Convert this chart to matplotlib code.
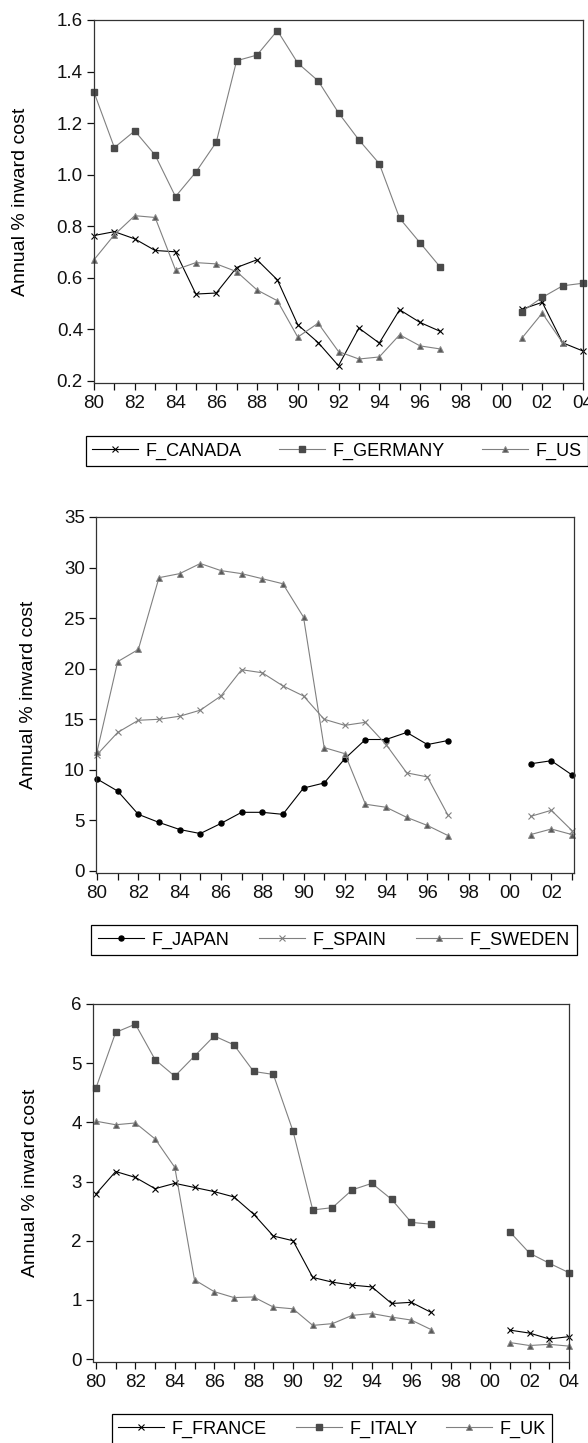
import matplotlib; matplotlib.use("Agg")
import matplotlib.pyplot as plt
import numpy as np

plt.rcParams["font.family"] = ["Liberation Sans", "DejaVu Sans"]

nan = np.nan
years = list(range(1980, 2005))

# panel 1 (values 1980..2004, gaps 98-00)
f_canada = [0.764, 0.779, 0.751, 0.706, 0.701, 0.537, 0.541, 0.640, 0.670, 0.592,
            0.418, 0.349, 0.259, 0.405, 0.347, 0.476, 0.427, 0.392, nan, nan, nan,
            0.478, 0.505, 0.348, 0.316]
f_germany = [1.320, 1.105, 1.170, 1.076, 0.915, 1.010, 1.126, 1.442, 1.464, 1.559,
             1.433, 1.364, 1.240, 1.135, 1.043, 0.831, 0.736, 0.641, nan, nan, nan,
             0.469, 0.524, 0.569, 0.579]
f_us = [0.670, 0.767, 0.841, 0.834, 0.631, 0.659, 0.654, 0.624, 0.553, 0.511,
        0.370, 0.424, 0.314, 0.285, 0.293, 0.379, 0.336, 0.324, nan, nan, nan,
        0.366, 0.463, 0.348, nan]

# panel 2
f_japan = [9.1, 7.9, 5.6, 4.8, 4.1, 3.7, 4.7, 5.8, 5.8, 5.6,
           8.2, 8.7, 11.1, 13.0, 13.0, 13.7, 12.5, 12.9, nan, nan, nan,
           10.6, 10.9, 9.5, nan]
f_spain = [11.5, 13.7, 14.9, 15.0, 15.3, 15.9, 17.3, 19.9, 19.6, 18.3,
           17.3, 15.0, 14.4, 14.7, 12.5, 9.7, 9.3, 5.5, nan, nan, nan,
           5.4, 6.0, 4.0, nan]
f_sweden = [11.8, 20.7, 21.9, 29.0, 29.4, 30.4, 29.7, 29.4, 28.9, 28.4,
            25.1, 12.2, 11.6, 6.6, 6.3, 5.3, 4.5, 3.5, nan, nan, nan,
            3.6, 4.15, 3.6, nan]

# panel 3
f_france = [2.79, 3.17, 3.07, 2.88, 2.97, 2.90, 2.83, 2.74, 2.45, 2.08,
            2.00, 1.38, 1.30, 1.25, 1.22, 0.94, 0.96, 0.79, nan, nan, nan,
            0.49, 0.44, 0.34, 0.38]
f_italy = [4.58, 5.52, 5.66, 5.06, 4.78, 5.12, 5.46, 5.31, 4.86, 4.81,
           3.85, 2.52, 2.56, 2.86, 2.97, 2.70, 2.31, 2.28, nan, nan, nan,
           2.15, 1.79, 1.62, 1.46]
f_uk = [4.02, 3.96, 3.99, 3.72, 3.24, 1.34, 1.14, 1.04, 1.05, 0.88,
        0.85, 0.57, 0.60, 0.74, 0.77, 0.71, 0.66, 0.50, nan, nan, nan,
        0.28, 0.23, 0.25, 0.22]

ylabel = "Annual % inward cost"

W, H = 588, 1443
fig = plt.figure(figsize=(W / 100, H / 100), dpi=100)


def rect(l, r, t, b):
    return [l / W, 1 - b / H, (r - l) / W, (b - t) / H]


BLACK = "#000000"
GREY = "#808080"
DARK = "#4a4a4a"

styles = {
    "cross_black": dict(color=BLACK, marker="x", ms=5, mew=0.8, mfc=BLACK, mec=BLACK),
    "square": dict(color=GREY, marker="s", ms=4.7, mfc=DARK, mec=DARK),
    "tri": dict(color=GREY, marker="^", ms=4.7, mfc="#5a5a5a", mec="#8a8a8a", mew=0.7),
    "dot": dict(color=BLACK, marker="o", ms=3.6, mfc=BLACK, mec=BLACK),
    "cross_grey": dict(color=GREY, marker="x", ms=5, mew=0.8, mfc=GREY, mec=GREY),
}

panels = [
    dict(rect=rect(94, 583, 20, 383), xlim=(1980, 2004), ylim=(0.192, 1.6),
         yticks=[0.2, 0.4, 0.6, 0.8, 1.0, 1.2, 1.4, 1.6], yfmt="{:.1f}",
         series=[("F_CANADA", f_canada, "cross_black"),
                 ("F_GERMANY", f_germany, "square"),
                 ("F_US", f_us, "tri")],
         ylab_x=21, leg=(337, 451), last=2004, colsp=2.05),
    dict(rect=rect(96, 574, 517, 873), xlim=(1979.95, 2003.1), ylim=(-0.2, 35),
         yticks=[0, 5, 10, 15, 20, 25, 30, 35], yfmt="{:.0f}",
         series=[("F_JAPAN", f_japan, "dot"),
                 ("F_SPAIN", f_spain, "cross_grey"),
                 ("F_SWEDEN", f_sweden, "tri")],
         ylab_x=29, leg=(334, 940), last=2003, colsp=1.65),
    dict(rect=rect(93, 569, 1004, 1361.5), xlim=(1979.85, 2004), ylim=(-0.04, 6),
         yticks=[0, 1, 2, 3, 4, 5, 6], yfmt="{:.0f}",
         series=[("F_FRANCE", f_france, "cross_black"),
                 ("F_ITALY", f_italy, "square"),
                 ("F_UK", f_uk, "tri")],
         ylab_x=31, leg=(332, 1429), last=2004, colsp=1.6),
]

for p in panels:
    ax = fig.add_axes(p["rect"])
    handles = []
    for name, vals, st in p["series"]:
        ln, = ax.plot(years, vals, lw=0.8, label=name, clip_on=False, **styles[st])
        handles.append(ln)
    ax.set_xlim(*p["xlim"])
    ax.set_ylim(*p["ylim"])
    xt = [y for y in years if y <= p["last"]]
    ax.set_xticks(xt)
    ax.set_xticklabels([f"{y % 100:02d}" if y % 2 == 0 else "" for y in xt])
    ax.set_yticks(p["yticks"])
    ax.set_yticklabels([p["yfmt"].format(v) for v in p["yticks"]])
    ax.tick_params(axis="both", direction="out", length=5, width=0.9,
                   labelsize=13.5, colors="#111111")
    ax.tick_params(axis="x", pad=4)
    ax.tick_params(axis="y", pad=3)
    for s in ax.spines.values():
        s.set_linewidth(0.9)
        s.set_color("#333333")
    l, b, w, h = p["rect"]
    fig.text(p["ylab_x"] / W, b + h / 2, ylabel, rotation=90, ha="center",
             va="center", fontsize=14)
    cx, cy = p["leg"]
    fig.legend(handles=handles, loc="center", bbox_to_anchor=(cx / W, 1 - cy / H),
               ncol=3, fontsize=13, frameon=True, fancybox=False,
               edgecolor="#000000", framealpha=1, handlelength=2.55,
               handletextpad=0.42, columnspacing=p["colsp"], borderpad=0.35,
               borderaxespad=0).get_frame().set_linewidth(0.9)

fig.savefig("out.png", dpi=100, facecolor="white")
